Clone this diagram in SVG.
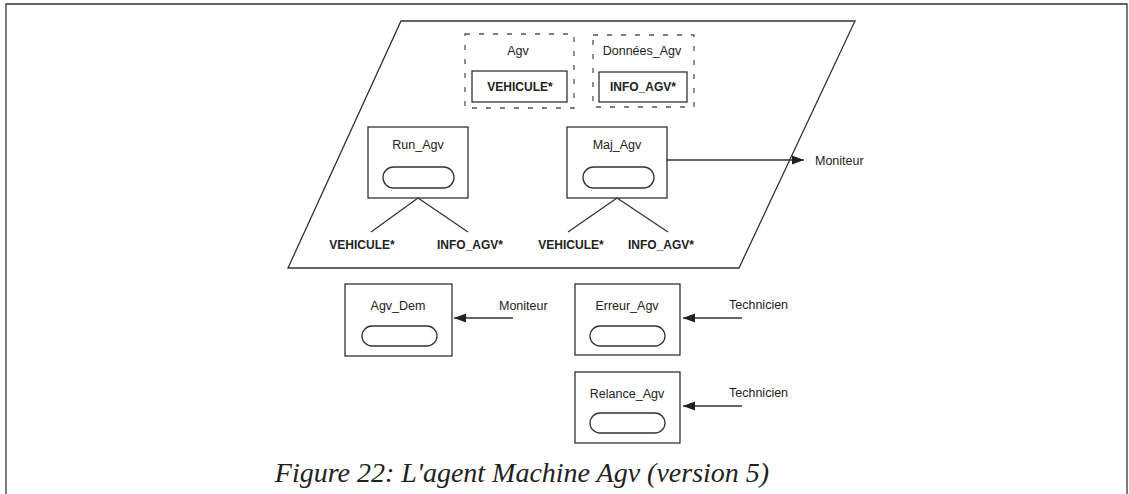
<svg xmlns="http://www.w3.org/2000/svg" width="1129" height="494" viewBox="0 0 1129 494">
<style>
.ln{fill:none;stroke:#333;stroke-width:1.3}
.box{fill:#fff;stroke:#333;stroke-width:1.3}
.dash{fill:none;stroke:#555;stroke-width:1.3;stroke-dasharray:5 9}
.t{font-family:"Liberation Sans",Arial,sans-serif;font-size:12.5px;fill:#222;text-anchor:middle}
.b{font-family:"Liberation Sans",Arial,sans-serif;font-size:12px;font-weight:bold;fill:#222;text-anchor:middle}
.l{font-family:"Liberation Sans",Arial,sans-serif;font-size:12.5px;fill:#222}
.cap{font-family:"Liberation Serif","Times New Roman",serif;font-style:italic;font-size:28px;fill:#222;text-anchor:middle}
</style>
<defs>
<marker id="ah" viewBox="0 0 12 10" refX="12" refY="5" markerWidth="12" markerHeight="10" markerUnits="userSpaceOnUse" orient="auto">
<path d="M0,0.5 L12,5 L0,9.5 Z" fill="#222"/>
</marker>
</defs>
<rect width="1129" height="494" fill="#fff"/>
<path class="ln" d="M6,494 L6,4 L1127,4 L1127,494" stroke-width="2"/>
<g id="agent">
<polygon class="ln" points="401,21 855,21 739,268 288,268"/>
</g>
<g id="agv-data">
<rect class="dash" x="465" y="34" width="109" height="74"/>
<text class="t" x="518" y="55">Agv</text>
<rect class="box" x="472" y="71" width="95" height="31"/>
<text class="b" x="520" y="91">VEHICULE*</text>
</g>
<g id="donnees-agv">
<rect class="dash" x="593" y="35" width="101" height="72"/>
<text class="t" x="642" y="55">Données_Agv</text>
<rect class="box" x="599" y="72" width="88" height="30"/>
<text class="b" x="643" y="91">INFO_AGV*</text>
</g>
<g id="run-agv">
<rect class="box" x="368" y="127" width="100" height="71"/>
<text class="t" x="418" y="149">Run_Agv</text>
<rect class="box" x="383" y="167" width="71" height="21" rx="10.5"/>
</g>
<g id="maj-agv">
<rect class="box" x="567" y="127" width="100" height="71"/>
<text class="t" x="617" y="149">Maj_Agv</text>
<rect class="box" x="583" y="167" width="71" height="21" rx="10.5"/>
</g>
<g id="agv-dem">
<rect class="box" x="345" y="284" width="107" height="72"/>
<text class="t" x="398" y="310">Agv_Dem</text>
<rect class="box" x="362" y="326" width="75" height="20" rx="10"/>
</g>
<g id="erreur-agv">
<rect class="box" x="575" y="284" width="105" height="71"/>
<text class="t" x="627" y="310">Erreur_Agv</text>
<rect class="box" x="590" y="326" width="75" height="20" rx="10"/>
</g>
<g id="relance-agv">
<rect class="box" x="575" y="372" width="105" height="71"/>
<text class="t" x="627" y="398">Relance_Agv</text>
<rect class="box" x="590" y="413" width="75" height="20" rx="10"/>
</g>
<g id="connectors">
<path class="ln" d="M371,232 L418,198 L468,232"/>
<path class="ln" d="M568,232 L617,198 L668,232"/>
<line class="ln" x1="667" y1="160" x2="804" y2="160" marker-end="url(#ah)"/>
<line class="ln" x1="513" y1="318" x2="454" y2="318" marker-end="url(#ah)"/>
<line class="ln" x1="742" y1="318" x2="683" y2="318" marker-end="url(#ah)"/>
<line class="ln" x1="742" y1="406" x2="683" y2="406" marker-end="url(#ah)"/>
</g>
<g id="labels">
<text class="b" x="362" y="249">VEHICULE*</text>
<text class="b" x="470" y="249">INFO_AGV*</text>
<text class="b" x="571" y="249">VEHICULE*</text>
<text class="b" x="661" y="249">INFO_AGV*</text>
<text class="l" x="815" y="165">Moniteur</text>
<text class="l" x="499" y="310">Moniteur</text>
<text class="l" x="729" y="309">Technicien</text>
<text class="l" x="729" y="397">Technicien</text>
</g>
<text class="cap" x="522" y="482">Figure 22: L'agent Machine Agv (version 5)</text>
</svg>
